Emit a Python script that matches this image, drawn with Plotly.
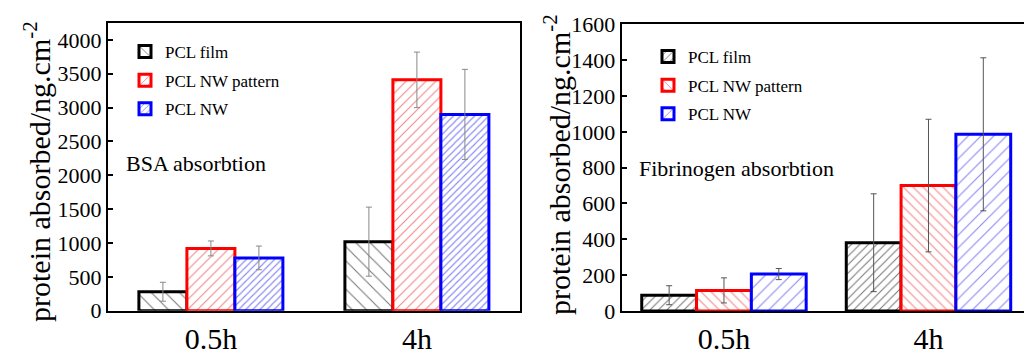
import plotly.graph_objects as go

categories = ["0.5h", "4h"]
series_names = ["PCL film", "PCL NW pattern", "PCL NW"]

bsa_film = [280, 1020]
bsa_film_err = [140, 510]
bsa_pattern = [920, 3410]
bsa_pattern_err = [110, 410]
bsa_nw = [780, 2900]
bsa_nw_err = [175, 665]

fib_film = [88, 381]
fib_film_err = [53, 273]
fib_pattern = [115, 700]
fib_pattern_err = [70, 370]
fib_nw = [206, 986]
fib_nw_err = [31, 427]

line_colors = ["black", "#ff0000", "#0000ff"]
hatch_colors = ["#7a7a7a", "#f48888", "#8888f4"]
bsa_shapes = ["\\", "/", "/"]
bsa_sizes = [10, 7, 5]
fib_shapes = ["/", "\\", "/"]
fib_sizes = [6, 7, 9]

FONT = "Times New Roman, Liberation Serif, serif"
fig = go.Figure()

bsa_vals = [bsa_film, bsa_pattern, bsa_nw]
bsa_errs = [bsa_film_err, bsa_pattern_err, bsa_nw_err]
fib_vals = [fib_film, fib_pattern, fib_nw]
fib_errs = [fib_film_err, fib_pattern_err, fib_nw_err]

w_left = 0.233
off_left = [-0.35, -0.117, 0.116]
w_right = 0.268
off_right = [-0.402, -0.134, 0.134]

for i in range(3):
    fig.add_trace(go.Bar(
        x=categories, y=bsa_vals[i], name=series_names[i],
        width=w_left, offset=off_left[i], legendgroup="b%d" % i,
        marker=dict(color="white", opacity=1, line=dict(color=line_colors[i], width=3),
                    pattern=dict(shape=bsa_shapes[i], fgcolor=hatch_colors[i], fgopacity=1,
                                 bgcolor="white", size=bsa_sizes[i],
                                 solidity=min(0.25, 1.1 / bsa_sizes[i]))),
        error_y=dict(type="data", array=bsa_errs[i], color="#888888", thickness=1, width=3),
        xaxis="x", yaxis="y", legend="legend",
    ))
for i in range(3):
    fig.add_trace(go.Bar(
        x=categories, y=fib_vals[i], name=series_names[i],
        width=w_right, offset=off_right[i], legendgroup="f%d" % i,
        marker=dict(color="white", opacity=1, line=dict(color=line_colors[i], width=3),
                    pattern=dict(shape=fib_shapes[i], fgcolor=hatch_colors[i], fgopacity=1,
                                 bgcolor="white", size=fib_sizes[i],
                                 solidity=min(0.25, 1.1 / fib_sizes[i]))),
        error_y=dict(type="data", array=fib_errs[i], color="#555555", thickness=1, width=3),
        xaxis="x2", yaxis="y2", legend="legend2",
    ))

axis_common = dict(showline=True, linewidth=2, linecolor="black", mirror=True,
                   showgrid=False, zeroline=False, automargin=False)

fig.update_layout(
    width=1024, height=350,
    margin=dict(l=0, r=0, t=0, b=0, autoexpand=False),
    paper_bgcolor="white", plot_bgcolor="white",
    barmode="overlay",
    font=dict(family=FONT, color="black"),
    xaxis=dict(domain=[108 / 1024, 520 / 1024], range=[-0.5, 1.5], type="category",
               ticks="", tickfont=dict(size=30, family=FONT), anchor="y", **axis_common),
    yaxis=dict(domain=[(350 - 310.7) / 350, (350 - 23) / 350], range=[0, 4250],
               tickvals=[0, 500, 1000, 1500, 2000, 2500, 3000, 3500, 4000],
               ticks="inside", ticklen=5, tickwidth=1.5, tickcolor="black",
               tickfont=dict(size=22, family=FONT), anchor="x", **axis_common),
    xaxis2=dict(domain=[621.7 / 1024, 1.0], range=[-0.5, 1.467], type="category",
                ticks="", tickfont=dict(size=30, family=FONT), anchor="y2", **axis_common),
    yaxis2=dict(domain=[(350 - 311) / 350, (350 - 24.3) / 350], range=[0, 1600],
                tickvals=[0, 200, 400, 600, 800, 1000, 1200, 1400, 1600],
                ticks="inside", ticklen=5, tickwidth=1.5, tickcolor="black",
                tickfont=dict(size=22, family=FONT), anchor="x2", **axis_common),
    legend=dict(x=125 / 1024, y=(350 - 34) / 350, xanchor="left", yanchor="top",
                tracegroupgap=3.5,
                bgcolor="rgba(0,0,0,0)", font=dict(size=17, family=FONT)),
    legend2=dict(x=648 / 1024, y=(350 - 39) / 350, xanchor="left", yanchor="top",
                 tracegroupgap=3.5,
                 bgcolor="rgba(0,0,0,0)", font=dict(size=17, family=FONT)),
    showlegend=True,
    annotations=[
        dict(text="BSA absorbtion", x=124 / 1024, y=(350 - 163) / 350, xref="paper", yref="paper",
             xanchor="left", yanchor="middle", showarrow=False, font=dict(size=22, family=FONT)),
        dict(text="Fibrinogen absorbtion", x=636.7 / 1024, y=(350 - 168) / 350, xref="paper", yref="paper",
             xanchor="left", yanchor="middle", showarrow=False, font=dict(size=22, family=FONT)),
        dict(text="protein absorbed/ng.cm<sup>-2</sup>", x=37 / 1024, y=(350 - 172) / 350,
             xref="paper", yref="paper", xanchor="center", yanchor="middle", textangle=-90,
             showarrow=False, font=dict(size=30, family=FONT)),
        dict(text="protein absorbed/ng.cm<sup>-2</sup>", x=557 / 1024, y=(350 - 165) / 350,
             xref="paper", yref="paper", xanchor="center", yanchor="middle", textangle=-90,
             showarrow=False, font=dict(size=30, family=FONT)),
    ],
)

fig.write_html("out.html", config={"displayModeBar": False},
               post_script="document.body.style.margin='0';document.body.style.overflow='hidden';")
